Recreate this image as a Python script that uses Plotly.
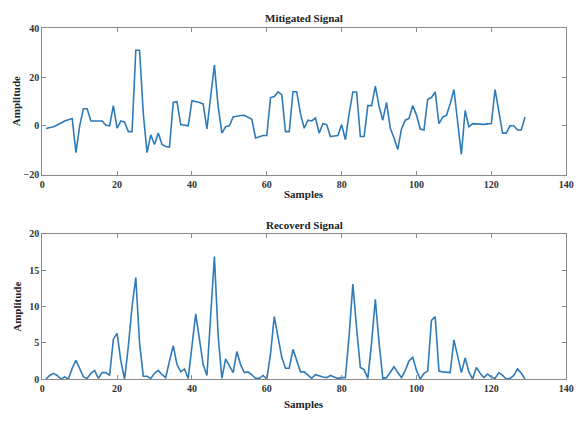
import plotly.graph_objects as go

# Sample index shared by both signals
samples = list(range(1, 130))

mitigated = [
    -1.1, -0.8, -0.4, 0.3, 1.2, 2.0, 2.5, 3.0, -11.0, 0.0,
    7.0, 7.0, 2.0, 2.0, 2.0, 2.0, 0.2, 0.0, 8.3, -1.0,
    2.0, 1.5, -2.4, -2.4, 31.0, 31.0, 5.0, -11.0, -3.7, -7.7,
    -3.0, -7.7, -8.5, -8.7, 9.6, 9.9, 0.5, 0.3, 0.0, 10.3,
    10.0, 9.6, 9.0, -1.3, 12.0, 24.9, 8.0, -3.0, -0.4, 0.0,
    3.6, 4.0, 4.2, 4.3, 3.5, 2.7, -5.0, -4.5, -4.0, -4.0,
    11.6, 12.0, 13.9, 12.8, -2.4, -2.4, 14.0, 14.0, 5.0, -1.0,
    2.3, 2.0, 3.2, -3.0, 0.9, 0.5, -4.4, -4.2, -4.0, 0.5,
    -5.7, 5.0, 13.9, 13.9, -4.4, -4.4, 8.3, 8.3, 16.3, 8.0,
    2.3, 9.6, -1.0, -5.0, -9.7, -1.3, 2.3, 3.0, 8.3, 4.4,
    -1.3, -1.7, 10.9, 11.6, 13.9, 0.9, 3.6, 4.3, 9.0, 14.9,
    2.0, -11.7, 6.3, -0.4, 0.9, 0.7, 0.5, 0.6, 0.8, 0.9,
    14.9, 5.0, -3.0, -3.0, 0.0, 0.0, -1.7, -1.7, 3.6,
]

recovered = [
    0.0, 0.5, 0.8, 0.5, 0.0, 0.3, 0.0, 1.5, 2.6, 1.5,
    0.3, 0.1, 0.8, 1.2, 0.1, 0.9, 0.9, 0.5, 5.5, 6.3,
    2.5, 0.0, 4.5, 10.0, 14.0, 5.0, 0.4, 0.4, 0.1, 0.8,
    1.2, 0.6, 0.2, 2.5, 4.6, 2.0, 1.0, 1.4, 0.1, 4.5,
    9.0, 5.5, 2.0, 0.5, 8.0, 16.9, 6.0, 0.1, 2.8, 1.8,
    0.9, 3.8, 2.0, 0.9, 1.0, 0.6, 0.1, 0.1, 0.5, 0.0,
    3.5, 8.6, 6.0, 3.0, 1.5, 1.5, 4.1, 2.5, 1.0, 1.0,
    0.5, 0.1, 0.6, 0.4, 0.3, 0.2, 0.5, 0.3, 0.1, 0.2,
    0.2, 6.0, 13.1, 7.0, 1.6, 1.3, 0.1, 5.0, 11.0, 5.0,
    0.1, 0.2, 1.0, 1.7, 0.9, 0.2, 1.2, 2.5, 3.0, 1.2,
    0.0, 0.8, 1.1, 8.1, 8.6, 1.1, 1.0, 0.9, 0.9, 5.4,
    3.0, 0.9, 2.9, 1.0, 0.0, 1.6, 0.8, 0.2, 0.7, 0.3,
    0.1, 0.9, 0.5, 0.0, 0.1, 0.5, 1.4, 0.8, 0.0,
]

x_ticks = [0, 20, 40, 60, 80, 100, 120, 140]
top_y_ticks = [-20, 0, 20, 40]
bottom_y_ticks = [0, 5, 10, 15, 20]

W, H = 584, 427
LINE_COLOR = "#2f7ab8"
AXIS_COLOR = "#8a8a8a"
SERIF = "Liberation Serif, Times New Roman, serif"

fig = go.Figure()
fig.add_trace(go.Scatter(x=samples, y=mitigated, mode="lines",
                         line=dict(color=LINE_COLOR, width=1.6),
                         xaxis="x", yaxis="y", showlegend=False))
fig.add_trace(go.Scatter(x=samples, y=recovered, mode="lines",
                         line=dict(color=LINE_COLOR, width=1.6),
                         xaxis="x2", yaxis="y2", showlegend=False))

tickfont = dict(family=SERIF, size=10, color="#333333", weight="bold")
common = dict(showline=True, linecolor=AXIS_COLOR, linewidth=1, mirror="ticks",
              ticks="inside", ticklen=4, tickcolor=AXIS_COLOR, showgrid=False,
              zeroline=False, tickfont=tickfont)

x_dom = [40 / W, 574 / W]
top_dom = [1 - 174 / H, 1 - 24 / H]
bot_dom = [1 - 384 / H, 1 - 235 / H]

fig.update_layout(
    width=W, height=H,
    margin=dict(l=0, r=0, t=0, b=0),
    plot_bgcolor="white", paper_bgcolor="white",
    xaxis=dict(domain=x_dom, range=[0, 140], tickvals=x_ticks, anchor="y", **common),
    yaxis=dict(domain=top_dom, range=[-20, 40], tickvals=top_y_ticks, anchor="x", **common),
    xaxis2=dict(domain=x_dom, range=[0, 140], tickvals=x_ticks, anchor="y2", **common),
    yaxis2=dict(domain=bot_dom, range=[0, 20], tickvals=bottom_y_ticks, anchor="x2", **common),
)

label_font = dict(family=SERIF, size=11, color="#222222", weight="bold")
cx = (x_dom[0] + x_dom[1]) / 2


def text(x, y, s, angle=0, size=11):
    f = dict(label_font)
    f["size"] = size
    fig.add_annotation(x=x, y=y, xref="paper", yref="paper", text=s,
                       showarrow=False, textangle=angle, font=f,
                       xanchor="center", yanchor="middle")


text(cx, 1 - 13 / H, "Mitigated Signal")
text(cx, 1 - 226 / H, "Recoverd Signal")
text(cx, 1 - 194 / H, "Samples")
text(cx, 1 - 410 / H, "Samples")
text(14 / W, 1 - 99 / H, "Amplitude", angle=-90)
text(14 / W, 1 - 310 / H, "Amplitude", angle=-90)

fig.write_html("out.html")
